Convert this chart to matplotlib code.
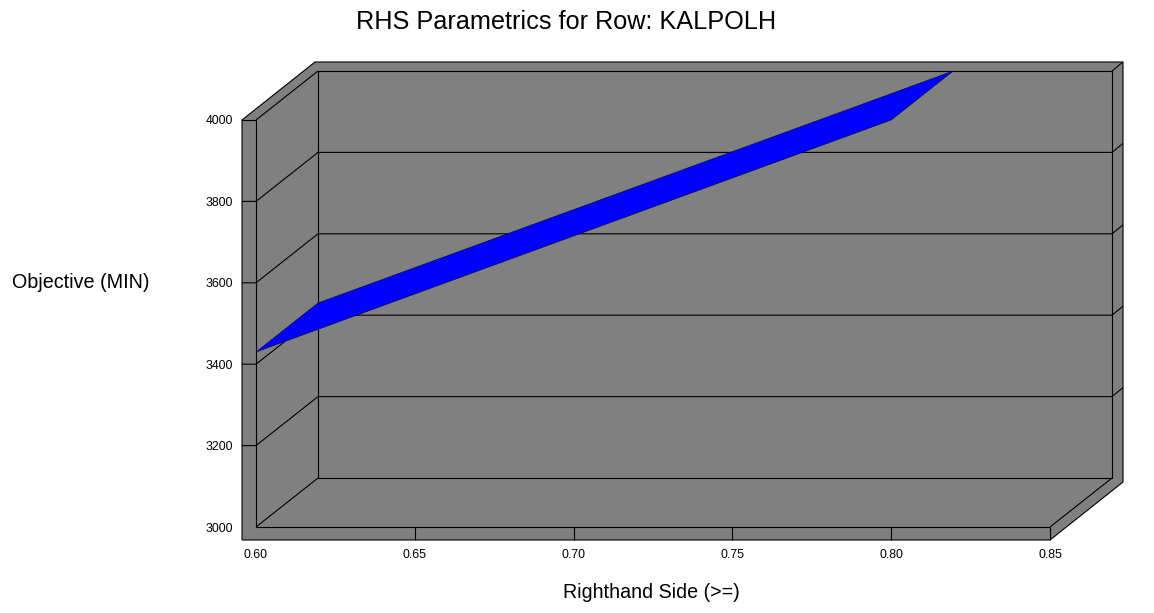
import matplotlib
matplotlib.use("Agg")
import matplotlib.pyplot as plt
from matplotlib.patches import Polygon
from matplotlib.collections import LineCollection

plt.rcParams['font.family'] = ['Liberation Sans', 'DejaVu Sans']

# ---- data ----
rhs = [0.60, 0.80]
objective = [3430, 4000]
x_ticks = [0.60, 0.65, 0.70, 0.75, 0.80, 0.85]
x_tick_labels = ["0.60", "0.65", "0.70", "0.75", "0.80", "0.85"]
y_ticks = [3000, 3200, 3400, 3600, 3800, 4000]
y_tick_labels = ["3000", "3200", "3400", "3600", "3800", "4000"]
title = "RHS Parametrics for Row: KALPOLH"
xlabel = "Righthand Side (>=)"
ylabel = "Objective (MIN)"

# ---- layout (pixels) ----
W, H = 1154, 613
AX_L, AX_R, AX_T, AX_B = 256, 1050, 120, 527
D1 = (62, 49)     # depth of back plane
D2 = (73, 58)     # depth of back wall outer face
WL = 14           # left wall thickness
FL = 13           # floor thickness
GRAY = '#808080'
LW = 0.8

fig = plt.figure(figsize=(W / 100, H / 100), dpi=100)
ax = fig.add_axes([AX_L / W, (H - AX_B) / H, (AX_R - AX_L) / W, (AX_B - AX_T) / H])
x0, x1 = x_ticks[0], x_ticks[-1]
y0, y1 = y_ticks[0], y_ticks[-1]
ax.set_xlim(x0, x1)
ax.set_ylim(y0, y1)
for s in ax.spines.values():
    s.set_visible(False)
ax.patch.set_visible(False)

ux = (x1 - x0) / (AX_R - AX_L)
uy = (y1 - y0) / (AX_B - AX_T)


def P(x, y, d=(0, 0), ox=0, oy=0):
    return (x + (d[0] + ox) * ux, y + (d[1] + oy) * uy)


# silhouette
sil = [P(x0, y0, ox=-WL, oy=-FL), P(x1, y0, oy=-FL), P(x1, y0, D2, oy=-FL),
       P(x1, y1, D2), P(x0, y1, D2, ox=-WL), P(x0, y1, ox=-WL)]
ax.add_patch(Polygon(sil, closed=True, fc=GRAY, ec='black', lw=LW, clip_on=False, zorder=1))

segs = []
segs.append([P(x0, y1), P(x0, y0)])
segs.append([P(x0, y0), P(x1, y0)])
segs.append([P(x0, y1, ox=-WL), P(x0, y1)])
segs.append([P(x0, y1), P(x0, y1, D1)])
segs.append([P(x0, y0, D1), P(x0, y1, D1), P(x1, y1, D1), P(x1, y0, D1), P(x0, y0, D1)])
segs.append([P(x0, y0), P(x0, y0, D1)])
segs.append([P(x1, y0), P(x1, y0, D1)])
segs.append([P(x1, y0), P(x1, y0, oy=-FL)])
segs.append([P(x1, y1, D1), P(x1, y1, D2)])
for y in y_ticks[1:-1]:
    segs.append([P(x0, y, ox=-WL), P(x0, y), P(x0, y, D1), P(x1, y, D1), P(x1, y, D2)])
for xt in x_ticks[1:-1]:
    segs.append([P(xt, y0), P(xt, y0, oy=-FL)])
ax.add_collection(LineCollection(segs, colors='black', linewidths=LW, clip_on=False, zorder=2))

# ribbon
front = [P(x, y) for x, y in zip(rhs, objective)]
back = [P(x, y, D1) for x, y in zip(rhs, objective)][::-1]
ax.add_patch(Polygon(front + back, closed=True, fc='#0000FF', ec='#000040', lw=0.4,
                     clip_on=False, zorder=3))

ax.set_xticks(x_ticks)
ax.set_xticklabels(x_tick_labels)
ax.set_yticks(y_ticks)
ax.set_yticklabels(y_tick_labels)
ax.tick_params(axis='x', length=0, pad=16, labelsize=8.9)
ax.tick_params(axis='y', length=0, pad=16.5, labelsize=8.9)

fig.text(566 / W, 1 - 22 / H, title, ha='center', va='center', fontsize=18.2)
fig.text(80.5 / W, 1 - 283 / H, ylabel, ha='center', va='center', fontsize=14.2)
fig.text(651 / W, 1 - 592 / H, xlabel, ha='center', va='center', fontsize=14.1)

fig.savefig("out.png", dpi=100, facecolor='white')
